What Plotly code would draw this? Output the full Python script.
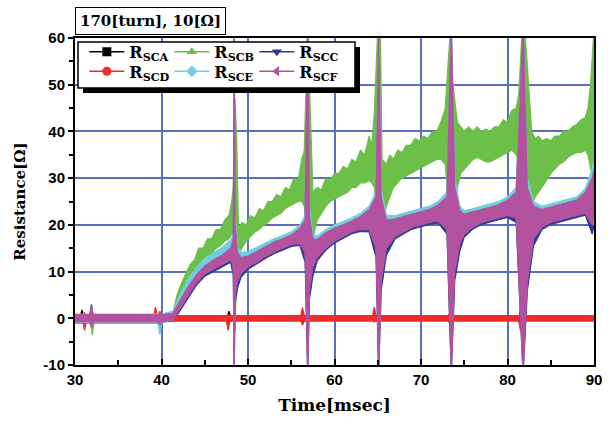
import plotly.graph_objects as go

# ---------------- data ----------------
# Time axis [msec] and noise-band envelopes (low / high) of each resistance trace [Ohm]
T_CEF = [30, 31.7, 31.9, 32.1, 39.6, 39.8, 40.0, 41.3, 42, 43, 44, 45, 46, 47, 48,
         48.3, 48.4, 48.5, 48.8, 49.2, 50, 51, 52, 53, 54, 55, 56,
         56.6, 56.9, 57.1, 57.5, 58, 59, 60, 61, 62, 63, 64,
         64.8, 65.1, 65.4, 66, 67, 68, 69, 70, 71, 72, 73,
         73.5, 73.9, 74.5, 75, 76, 77, 78, 79, 80, 81,
         81.8, 82.3, 83, 84, 85, 86, 87, 88, 89, 89.8, 90]

F_LO = [-0.8, -0.8, -2.0, -0.8, -0.8, -1.5, -0.8, -0.3, 1.5, 4.5, 7.5, 9.5, 10.5, 11.5, 12.5,
        11, -12, 5, 8, 9.5, 11, 12, 13.2, 14.2, 15, 15.8, 16,
        14, -12, 6, 11, 13, 15, 16.5, 17.5, 18.5, 19, 19,
        15, -12, 8, 15, 17.5, 18.5, 19.5, 20, 20.5, 20.8, 19,
        -12, 10, 16, 18, 19.5, 20.5, 21, 21.5, 22, 21.5,
        -12, 8, 17, 19.5, 20.5, 21, 21.5, 22, 22.5, 20, 22]
F_HI = [0.8, 0.8, 2.5, 0.8, 0.8, 1.5, 0.8, 1.0, 3.3, 6.5, 9.2, 11.2, 12.5, 13.5, 15,
        17, 62, 20, 14, 13, 13.3, 14.3, 15.3, 16.3, 17, 17.8, 19.3,
        21, 62, 22, 17, 16.8, 18.3, 19.3, 20, 20.8, 21.8, 23.3,
        26, 62, 26, 21, 21.3, 21.8, 22.3, 22.8, 23.3, 24.3, 26,
        62, 28, 23, 22.3, 22.8, 23.3, 23.8, 24.3, 25.3, 27,
        62, 28, 24, 23.3, 23.8, 24.3, 24.8, 25.3, 27, 30, 32]

C_LO = [-1.0, -1.0, -1.0, -1.0, -1.0, -1.0, -1.0, -0.5, 1.2, 4.0, 7.0, 9.0, 10.0, 11.0, 12.0,
        9, -12, 3, 6.5, 8.8, 10.5, 11.6, 12.8, 13.8, 14.6, 15.4, 15.6,
        12, -12, 4, 9, 12.3, 14.6, 16.1, 17.1, 18.1, 18.6, 18.5,
        13, -12, 6, 13.5, 17, 18.1, 19.1, 19.6, 20.1, 20.4, 18,
        -12, 8, 14.5, 17.4, 19.1, 20.1, 20.6, 21.1, 21.6, 20.5,
        -12, 6, 15.5, 19, 20.1, 20.6, 21.1, 21.6, 22.1, 18, 20]
C_HI = [0.6, 0.6, 3.0, 0.6, 0.6, 1.2, 0.6, 0.8, 3.0, 6.3, 9, 11, 12.3, 13.3, 15,
        17, 62, 18, 13.5, 12.5, 13, 14, 15, 16, 16.8, 17.5, 19,
        21, 62, 20, 16, 16.5, 18, 19, 19.8, 20.5, 21.5, 23,
        25, 50, 24, 20.5, 21, 21.5, 22, 22.5, 23, 24, 25,
        62, 26, 22, 22, 22.5, 23, 23.5, 24, 25, 27,
        62, 27, 23.5, 23, 23.5, 24, 24.5, 25, 26.5, 29, 31]

E_LO = [-0.9, -0.9, -1.0, -0.9, -0.9, -3.5, -0.9, -0.3, 2.0, 5.0, 8.0, 10.0, 11.0, 12.0, 13.0,
        12, -5, 6, 9, 10.5, 11.5, 12.5, 13.7, 14.7, 15.5, 16.3, 16.5,
        15, 0, 7, 12, 14, 15.5, 17, 18, 19, 19.5, 19.5,
        16, 0, 9, 16, 18, 19, 20, 20.5, 21, 21.3, 20,
        0, 11, 17, 18.5, 20, 21, 21.5, 22, 22.5, 22,
        0, 9, 17.5, 20, 21, 21.5, 22, 22.5, 23, 21, 20]
E_HI = [0.9, 0.9, 2.0, 0.9, 0.9, 1.0, 0.9, 1.5, 4.5, 8.3, 10.8, 12.8, 14.1, 15.1, 16.8,
        18, 62, 22, 15.2, 14.1, 14.3, 15.2, 16.1, 17.0, 17.7, 18.5, 20,
        22, 62, 24, 18, 17.6, 19.0, 20.0, 20.7, 21.5, 22.5, 24,
        27, 62, 28, 22, 22, 22.5, 23, 23.5, 24, 25, 27,
        62, 30, 24, 23, 23.5, 24, 24.5, 25, 26, 28,
        62, 30, 25, 24, 24.5, 25, 25.5, 26, 27.8, 32, 34]

B_T = [30, 31.8, 32.0, 32.2, 39.5, 39.7, 39.9, 41.3, 41.8, 42.3,
       42.8, 43.3, 43.8, 44.3, 44.8, 45.3, 45.8, 46.3, 46.8, 47.3,
       47.8, 48.1, 48.3, 48.5, 48.7, 48.9, 49.3, 49.8, 50.3, 50.8,
       51.3, 51.8, 52.3, 52.8, 53.3, 53.8, 54.3, 54.8, 55.3, 55.8,
       56.2, 56.5, 56.9, 57.2, 57.5, 58.0, 58.5, 59.0, 59.5, 60.0,
       60.5, 61.0, 61.5, 62.0, 62.5, 63.0, 63.5, 64.0, 64.3, 64.6,
       65.0, 65.3, 65.5, 66.0, 66.4, 66.8, 67.3, 67.8, 68.3, 68.8,
       69.3, 69.8, 70.3, 70.8, 71.3, 71.8, 72.3, 72.8, 73.4, 73.7,
       74.2, 74.6, 75.0, 75.5, 76.0, 76.5, 77.0, 77.5, 78.0, 78.5,
       79.0, 79.5, 80.0, 80.5, 81.0, 81.3, 81.7, 82.0, 82.4, 82.8,
       83.2, 83.6, 84.0, 84.5, 85.0, 85.5, 86.0, 86.5, 87.0, 87.5,
       88.0, 88.5, 89.0, 89.3, 89.6, 90.0]
B_LO = [-0.8, -0.8, -3.6, -0.8, -0.8, -1.5, -0.8, -0.3, 2.5, 4,
        6, 7.5, 9.5, 11, 12, 13, 14, 15, 15.5, 16.5,
        17, 18, 19, -3, 12, 14, 15, 16.5, 17.5, 18.5,
        19, 20, 20.5, 21.5, 22, 22.5, 23.5, 24, 24.5, 25,
        25, 24, 20, 10, 17, 21, 22.5, 24, 25, 25.5,
        26, 26.5, 27, 28, 28, 29, 29, 29.5, 29, 28,
        20, 15, 20, 24, 26, 28, 29, 30, 30.5, 31,
        31.5, 32, 32.5, 33, 33.5, 34, 34, 33, 20, 18,
        28, 31, 32, 33, 34, 34.5, 34, 33.5, 33.5, 34,
        34.5, 35, 35.5, 36, 35, 34, 15, 14, 20, 24,
        26, 27, 28, 29.5, 31, 32, 33, 33.5, 34.5, 35,
        35.5, 35.5, 36, 35, 32, 30]
B_HI = [0.8, 0.8, 0.8, 0.8, 0.8, 1.0, 0.8, 1.0, 5, 7.5,
        9.5, 11.5, 12.5, 15, 15, 17, 17, 19, 19, 21,
        22, 25, 28, 47, 38, 19, 20.5, 20, 22, 21.5,
        23.5, 23, 25, 25, 26.5, 26, 28, 27.5, 30, 29.5,
        34, 36, 62, 42, 27, 28, 27.5, 30, 29.5, 31,
        31, 32.5, 32, 34, 33.5, 36, 35, 39, 37, 44,
        62, 62, 34, 33, 35, 34, 36, 35.5, 37, 37,
        38.5, 38, 39, 38.5, 40, 40, 42, 45, 62, 50,
        42, 41, 40, 41, 40, 41, 40, 40.5, 40, 41,
        41, 42.5, 42, 44.5, 45, 48, 62, 62, 50, 40,
        38.5, 39, 38, 38.5, 38, 39, 39, 40, 40, 41,
        41.5, 42.5, 43, 45, 50, 62]

D_T = [30, 30.9, 31.1, 31.3, 39.1, 39.3, 39.5, 47.5, 47.7, 47.9, 56.1, 56.3, 56.5,
       64.4, 64.6, 64.8, 73.1, 73.3, 73.5, 81.3, 81.5, 81.7, 90]
D_LO = [-0.6, -0.6, -2.6, -0.6, -0.6, -0.8, -0.6, -0.6, -2.6, -0.6, -0.6, -1.5, -0.6,
        -0.6, -0.8, -0.6, -0.6, -1.0, -0.6, -0.6, -2.6, -0.6, -0.6]
D_HI = [0.6, 0.6, 1.2, 0.6, 0.6, 2.4, 0.6, 0.6, 0.8, 0.6, 0.6, 2.3, 0.6,
        0.6, 2.4, 0.6, 0.6, 1.0, 0.6, 0.6, 0.8, 0.6, 0.6]

A_T = [30, 30.6, 30.8, 31.0, 47.6, 47.8, 48.0, 73.2, 73.4, 73.6, 81.4, 81.6, 81.8, 90]
A_LO = [-0.4, -0.4, -0.4, -0.4, -0.4, -1.0, -0.4, -0.4, -1.5, -0.4, -0.4, -0.4, -0.4, -0.4]
A_HI = [0.4, 0.4, 1.8, 0.4, 0.4, 1.5, 0.4, 0.4, 1.5, 0.4, 0.4, 3.5, 0.4, 0.4]

NAMES = ["R<sub>SCA</sub>", "R<sub>SCB</sub>", "R<sub>SCC</sub>",
         "R<sub>SCD</sub>", "R<sub>SCE</sub>", "R<sub>SCF</sub>"]
X_TICKS = [30, 40, 50, 60, 70, 80, 90]
Y_TICKS = [-10, 0, 10, 20, 30, 40, 50, 60]

# ---------------- styling ----------------
COLORS = ["#000000", "#6cbf47", "#2a3d96", "#ee2a2a", "#6fcfdc", "#b3529f"]
SYMBOLS = ["square", "triangle-up", "triangle-down", "circle", "diamond", "triangle-left"]
SERIF = "DejaVu Serif"
SANS = "Liberation Sans, Arial"

series = [
    (A_T, A_LO, A_HI),
    (B_T, B_LO, B_HI),
    (T_CEF, C_LO, C_HI),
    (D_T, D_LO, D_HI),
    (T_CEF, E_LO, E_HI),
    (T_CEF, F_LO, F_HI),
]
for t, lo, hi in series:
    assert len(t) == len(lo) == len(hi), (len(t), len(lo), len(hi))

fig = go.Figure()

# noise bands (drawn from envelopes)
for (t, lo, hi), col in zip(series, COLORS):
    fig.add_trace(go.Scatter(
        x=list(t) + list(t)[::-1], y=list(hi) + list(lo)[::-1],
        mode="lines", fill="toself", fillcolor=col,
        line=dict(color=col, width=1.2), showlegend=False, hoverinfo="skip"))

# legend entries
for i, (name, col, sym) in enumerate(zip(NAMES, COLORS, SYMBOLS)):
    fig.add_trace(go.Scatter(
        x=[None], y=[None], mode="lines+markers", name=name,
        line=dict(color=col, width=1.5),
        marker=dict(symbol=sym, size=9, color=col),
        legend="legend" if i < 3 else "legend2"))

legend_common = dict(
    orientation="h", entrywidth=35, entrywidthmode="pixels",
    bgcolor="rgba(0,0,0,0)", borderwidth=0, itemwidth=35,
    font=dict(family=SERIF, size=16, color="black", weight="bold"),
    xanchor="left", yanchor="top", tracegroupgap=0)

fig.update_layout(
    width=609, height=421,
    margin=dict(l=75, r=7, t=38, b=56),
    paper_bgcolor="white", plot_bgcolor="white",
    legend=dict(x=0.018, y=1.01, **legend_common),
    legend2=dict(x=0.018, y=0.95, **legend_common),
    xaxis=dict(
        range=[30, 90], tickvals=X_TICKS, ticktext=[str(v) for v in X_TICKS],
        showgrid=True, gridcolor="#5a6ec0", gridwidth=1.5,
        zeroline=False, showline=True, linecolor="black", linewidth=2, mirror=True,
        ticks="inside", ticklen=6, tickcolor="black", tickwidth=1.5,
        minor=dict(dtick=5, tick0=30, ticks="inside", ticklen=5, tickcolor="black", showgrid=False),
        tickfont=dict(family=SANS, size=15, color="black", weight="bold"),
        title=dict(text="Time[msec]", standoff=12,
                   font=dict(family=SERIF, size=17, color="black", weight="bold"))),
    yaxis=dict(
        range=[-10, 60], tickvals=Y_TICKS, ticktext=[str(v) for v in Y_TICKS],
        showgrid=True, gridcolor="#5a6ec0", gridwidth=1.5,
        zeroline=False, showline=True, linecolor="black", linewidth=2, mirror=True,
        ticks="outside", ticklen=5, tickcolor="black", tickwidth=1.5,
        minor=dict(dtick=5, tick0=-10, ticks="outside", ticklen=4, tickcolor="black", showgrid=False),
        tickfont=dict(family=SANS, size=15, color="black", weight="bold"),
        title=dict(text="Resistance[Ω]", standoff=14,
                   font=dict(family=SERIF, size=15, color="black", weight="bold"))),
    shapes=[
        # legend drop shadow
        dict(type="rect", xref="paper", yref="paper", layer="above",
             xsizemode="pixel", ysizemode="pixel", xanchor=0, yanchor=1,
             x0=8, x1=285, y0=-9, y1=-55, fillcolor="black", line=dict(width=0)),
        # legend box
        dict(type="rect", xref="paper", yref="paper", layer="above",
             xsizemode="pixel", ysizemode="pixel", xanchor=0, yanchor=1,
             x0=3, x1=280, y0=-4, y1=-50, fillcolor="white",
             line=dict(color="black", width=1.5)),
    ],
    annotations=[dict(
        text="170[turn], 10[Ω]", xref="paper", yref="paper", x=0, y=1,
        xanchor="left", yanchor="bottom", yshift=3, showarrow=False,
        font=dict(family=SERIF, size=15, color="black", weight="bold"),
        bordercolor="black", borderwidth=1, borderpad=4, bgcolor="white")],
)

fig.write_html("out.html")
